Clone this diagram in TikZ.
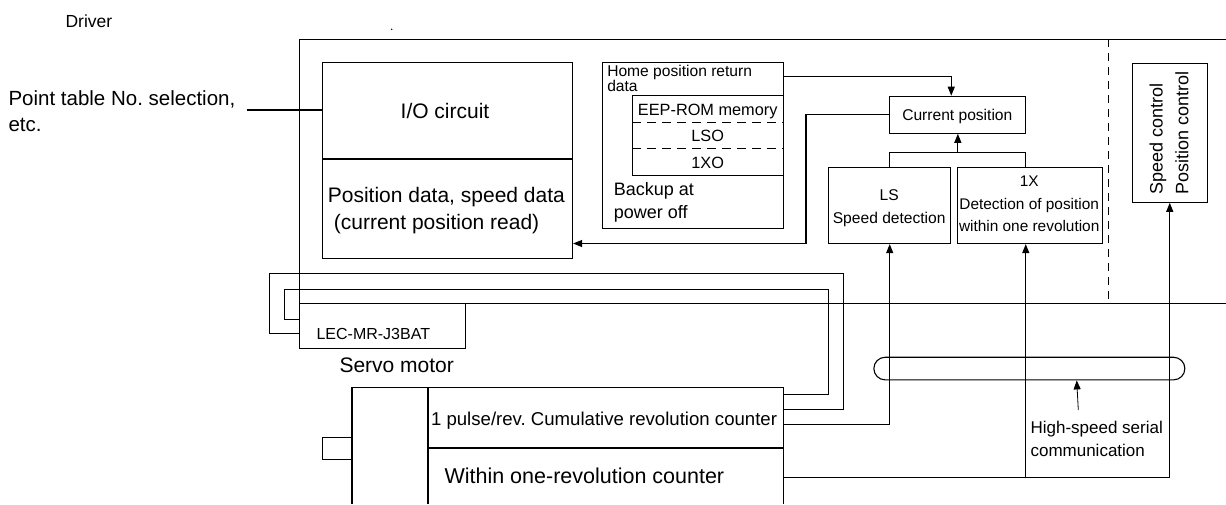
\documentclass[tikz,border=0pt]{standalone}
\usepackage{fontspec}
\setmainfont{Liberation Sans}
\usetikzlibrary{arrows.meta,calc}
\newcommand\fsz[1]{\fontsize{#1pt}{#1pt}\selectfont}
\newcommand\tightlines{\lineskiplimit=-30pt\lineskip=0pt}
\frenchspacing
\begin{document}
\begin{tikzpicture}[x=1pt,y=-1pt,
  line width=1.1pt,
  box/.style={draw,line width=1.1pt,inner sep=0pt,anchor=north west},
  lbl/.style={inner sep=0pt,anchor=base west},
  clbl/.style={inner sep=0pt,anchor=base},
  arr/.style={-{Triangle[length=9pt,width=7pt]}},
  thickdiv/.style={line width=1.8pt},
  wire/.style={line width=0.9pt},
  dsh/.style={dash pattern=on 9pt off 6pt, line width=0.9pt},
]
\useasboundingbox (0,0) rectangle (1226,504);

% Driver frame
\draw (1226,39.3) -- (299.3,39.3) -- (299.3,303.3) -- (1226,303.3);
\draw[dash pattern=on 8pt off 6pt, line width=0.9pt] (1108.3,39.3) -- (1108.3,303.3);
\node[lbl,font=\fsz{17.5}] (drv) at (65,27.5) {Driver};
\fill (391.7,29.3) circle[radius=0.8pt];

% Point table input
\node[lbl,font=\fsz{20.5}] (pt1) at (8,105) {Point table No. selection,};
\node[lbl,font=\fsz{20.5}] (pt2) at (8,131.7) {etc.};

% I/O circuit
\node[box,minimum width=250pt,minimum height=196.6pt] (io) at (322,61.7) {};
\draw[thickdiv] (322,159.3) -- (572,159.3);
\node[clbl,font=\fsz{21}] (iot) at (445,118.5) {I/O circuit};
\node[lbl,font=\fsz{21}] (pd1) at (327.3,202.3) {Position data, speed data};
\node[lbl,font=\fsz{21}] (pd2) at (333.3,229.5) {(current position read)};
\coordinate (ptl) at (246.7,110);
\draw (ptl) -- (ptl -| io.west);

% Home position / backup box
\node[box,minimum width=181.6pt,minimum height=166pt] (home) at (601.7,61.7) {};
\node[box,minimum width=151.3pt,minimum height=79.7pt] (eep) at (632,95.3) {};
\draw[dsh] (632,122.3) -- (783.3,122.3);
\draw[dsh] (632,148.3) -- (783.3,148.3);
\node[lbl,align=left,font=\fontsize{15.6pt}{15pt}\selectfont\tightlines] (hp) at (606.7,91) {Home position return\\data};
\node[clbl,font=\fsz{16.3}] (eept) at (707.7,115) {EEP-ROM memory};
\node[clbl,font=\fsz{16.3}] (lso) at (707.7,141) {LSO};
\node[clbl,font=\fsz{16.3}] (xo) at (707.7,168.3) {1XO};
\node[lbl,font=\fsz{18}] (bk1) at (613.3,195) {Backup at};
\node[lbl,font=\fsz{18}] (bk2) at (613.3,218.5) {power off};

% Current position and detections
\node[box,minimum width=136pt,minimum height=37pt] (cur) at (889.3,95.7) {};
\node[clbl,font=\fsz{15.6}] (curt) at (957.3,120.7) {Current position};
\node[box,minimum width=121.7pt,minimum height=75.7pt] (ls) at (828.3,167.3) {};
\node[clbl,font=\fsz{15.6}] (ls1) at (889.2,200) {LS};
\node[clbl,font=\fsz{15.6}] (ls2) at (889.2,223.3) {Speed detection};
\node[box,minimum width=145pt,minimum height=75.7pt] (onex) at (956.7,167.3) {};
\node[clbl,font=\fsz{15.4}] (ox1) at (1029.2,186) {1X};
\node[clbl,font=\fsz{15.4}] (ox2) at (1029.2,209.3) {Detection of position};
\node[clbl,font=\fsz{15.4}] (ox3) at (1029.2,231.7) {within one revolution};

% Speed / position control
\node[box,minimum width=75pt,minimum height=139pt] (spd) at (1131.7,62.7) {};
\node[lbl,rotate=90,font=\fsz{18}] (sc1) at (1162.7,195.3) {Speed control};
\node[lbl,rotate=90,font=\fsz{18}] (sc2) at (1188.3,195.3) {Position control};

% Battery
\node[box,minimum width=166.6pt,minimum height=45.6pt] (bat) at (298.7,302.7) {};
\node[lbl,font=\fsz{16}] (batt) at (316,339.3) {LEC-MR-J3BAT};
\node[lbl,font=\fsz{21}] (sm) at (339,372.3) {Servo motor};

% Servo motor
\node[box,minimum width=355.6pt,minimum height=60.4pt] (cum) at (427.7,387.3) {};
\draw (352,504) -- (352,387.3) -- (427.7,387.3);
\draw[thickdiv] (427.7,387.3) -- (427.7,504);
\draw[thickdiv] (427.7,447.7) -- (783.3,447.7);
\draw (783.3,447.7) -- (783.3,504);
\node[box,minimum width=30pt,minimum height=22.6pt] (shaft) at (322,436.7) {};
\node[lbl,font=\fsz{18.6}] (cumt) at (430.5,425) {1 pulse/rev. Cumulative revolution counter};
\node[lbl,font=\fsz{21.5}] (wit) at (444,483.3) {Within one-revolution counter};

% High-speed serial
\node[draw,line width=1.1pt,rounded corners=11.3pt,minimum width=311pt,minimum height=22.6pt,anchor=north west,inner sep=0pt] (cap) at (873.3,356.7) {};
\node[lbl,font=\fsz{17}] (hs1) at (1030,433.3) {High-speed serial};
\node[lbl,font=\fsz{17}] (hs2) at (1030,456.7) {communication};
\coordinate (hsl) at (1078.3,410);
\coordinate (hsx) at (1076.7,0);
\draw[arr,line width=0.8pt] (hsl) -- (hsx |- cap.south);

% Connectors
\coordinate (hs) at ($(home.north east)+(0,15)$);
\coordinate (ct) at ($(cur.north)+(-6.6,0)$);
\draw[arr] (hs) -| (ct);
\coordinate (c1) at (806,243.5);
\draw[arr] (cur.west) -| (c1) -- (c1 -| io.east);
\coordinate (mj) at ($(ls.north)+(0,-14.6)$);
\coordinate (oxn) at ($(onex.north)+(-4,0)$);
\draw (ls.north) -- (mj) -| (oxn);
\draw[arr] (cur.south |- mj) -- (cur.south);
\draw[arr] ($(cum.east)+(0,6.8)$) -| (ls.south);
\coordinate (wo) at (783.3,477.7);
\draw[arr] (wo) -| (spd.south);
\coordinate (oxs) at ($(onex.south)+(-4,0)$);
\draw[arr] (oxs |- wo) -- (oxs);

% Battery wires
\draw[wire] ($(bat.west)+(0,-6.5)$) -| (284.3,289) -| (828.7,394.3) -- (cum.east |- 0,394.3);
\draw[wire] ($(bat.west)+(0,7.8)$) -| (269,273.7) -| (843.7,409.3) -- (cum.east |- 0,409.3);
\end{tikzpicture}
\end{document}
